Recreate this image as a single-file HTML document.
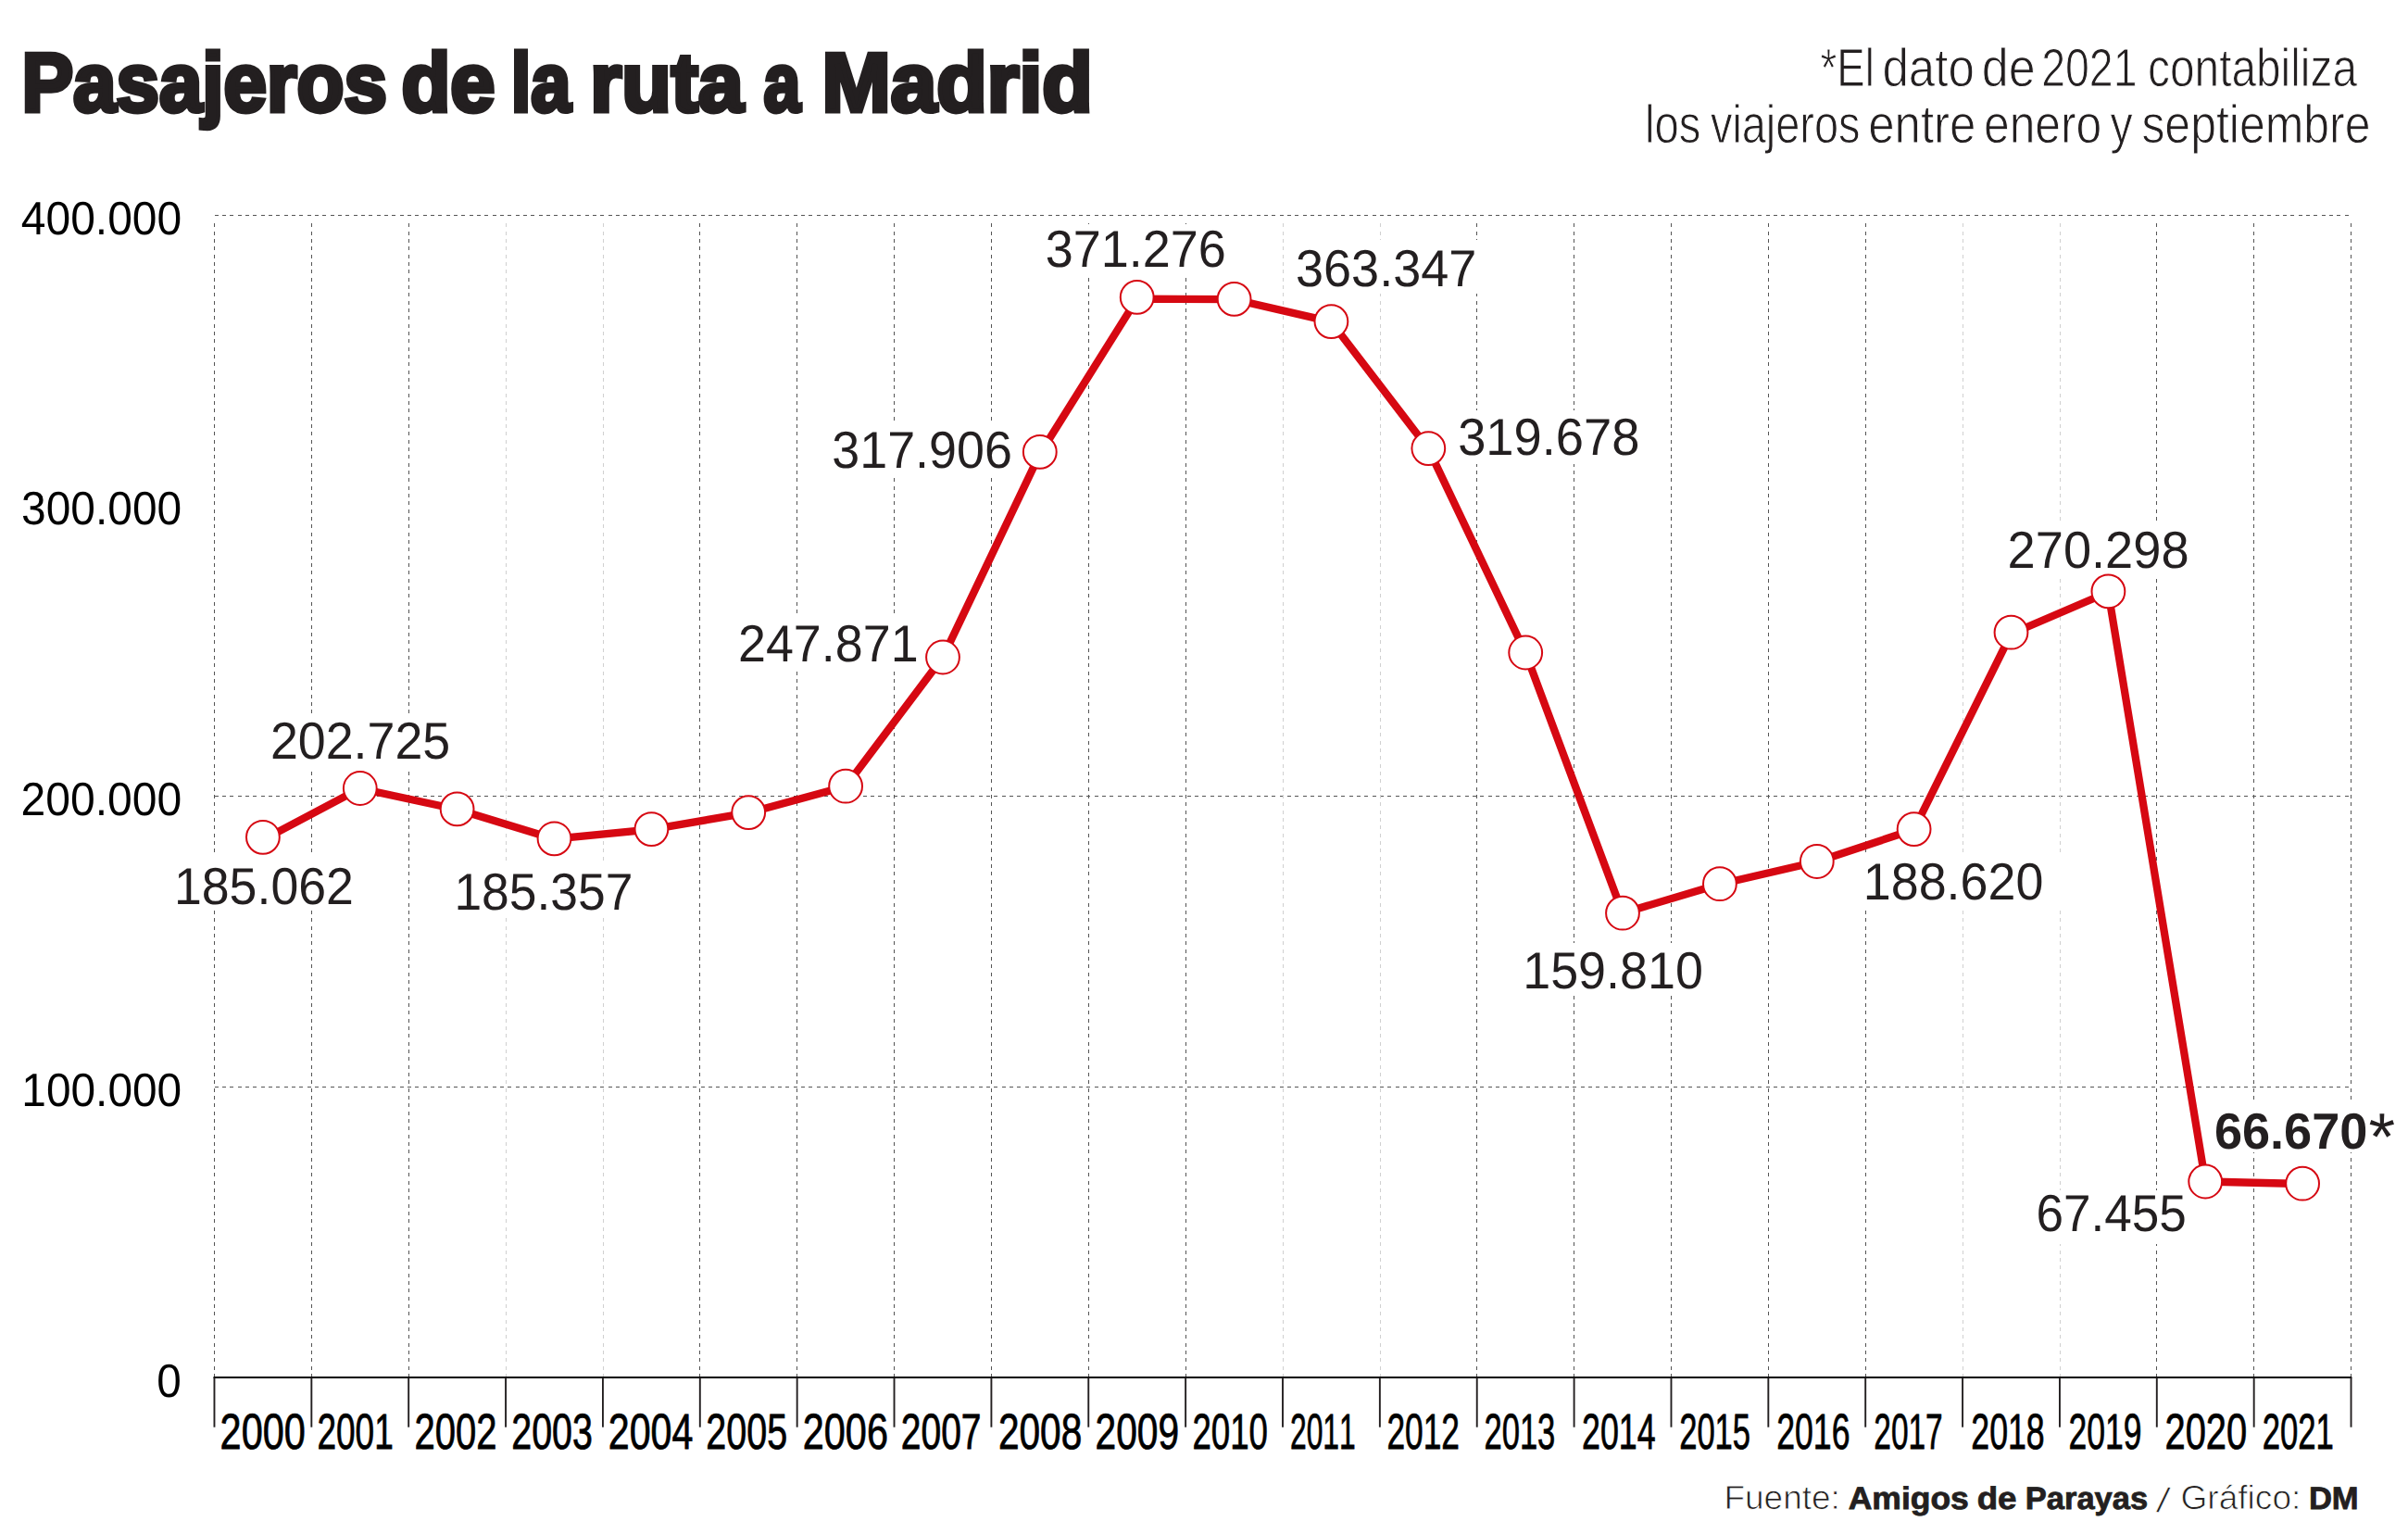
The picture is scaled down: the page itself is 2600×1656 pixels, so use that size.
<!DOCTYPE html>
<html lang="es"><head><meta charset="utf-8"><title>Pasajeros de la ruta a Madrid</title>
<style>html,body{margin:0;padding:0;background:#fff}svg{display:block}text{text-rendering:geometricPrecision;font-family:"Liberation Sans",sans-serif;font-kerning:none;fill:#231f20}.b{font-weight:700}.k{fill:#000}.h{stroke:#231f20;stroke-width:5;stroke-linejoin:miter;vector-effect:non-scaling-stroke}.y{stroke:#000;stroke-width:.8;vector-effect:non-scaling-stroke}.n{stroke:#fff;stroke-width:1;vector-effect:non-scaling-stroke}.m{stroke:#fff;stroke-width:.8;vector-effect:non-scaling-stroke}.f{stroke:#231f20;stroke-width:.8;vector-effect:non-scaling-stroke}</style></head><body>
<svg width="2600" height="1656" viewBox="0 0 2600 1656">
<rect width="2600" height="1656" fill="#fff"/>
<defs><path id="v" d="M.5 241v4m0 5v4m0 4v4m0 4v4m0 5v4m0 4v4m0 4v4m0 5v4m0 4v4m0 4v4m0 5v4m0 4v4m0 4v4m0 5v4m0 4v4m0 4v4m0 5v4m0 4v4m0 4v4m0 5v4m0 4v4m0 4v4m0 5v4m0 4v4m0 4v4m0 5v4m0 4v4m0 4v4m0 5v4m0 4v4m0 4v4m0 5v4m0 4v4m0 4v4m0 5v4m0 4v4m0 4v4m0 5v4m0 4v4m0 4v4m0 5v4m0 4v4m0 4v4m0 5v4m0 4v4m0 4v4m0 5v4m0 4v4m0 4v4m0 5v4m0 4v4m0 4v4m0 5v4m0 4v4m0 4v4m0 5v4m0 4v4m0 4v4m0 5v4m0 4v4m0 4v4m0 5v4m0 4v4m0 4v4m0 5v4m0 4v4m0 4v4m0 5v4m0 4v4m0 4v4m0 5v4m0 4v4m0 4v4m0 5v4m0 4v4m0 4v4m0 5v4m0 4v4m0 4v4m0 5v4m0 4v4m0 4v4m0 5v4m0 4v4m0 4v4m0 5v4m0 4v4m0 4v4m0 5v4m0 4v4m0 4v4m0 5v4m0 4v4m0 4v4m0 5v4m0 4v4m0 4v4m0 5v4m0 4v4m0 4v4m0 5v4m0 4v4m0 4v4m0 5v4m0 4v4m0 4v4m0 5v4m0 4v4m0 4v4m0 5v4m0 4v4m0 4v4m0 5v4m0 4v4m0 4v4m0 5v4m0 4v4m0 4v4m0 5v4m0 4v4m0 4v4m0 5v4m0 4v4m0 4v4m0 5v4m0 4v4m0 4v4m0 5v4m0 4v4m0 4v4m0 5v4m0 4v4m0 4v4m0 5v4m0 4v4m0 4v4m0 5v4m0 4v4m0 4v4m0 5v4m0 4v4m0 4v4m0 5v4m0 4v4m0 4v4m0 5v4m0 4v4m0 4v4m0 5v4m0 4v4"/><path id="h" d="M232 .5h4m4 0h4m4 0h4m5 0h4m4 0h4m4 0h4m5 0h4m4 0h4m4 0h4m5 0h4m4 0h4m4 0h4m5 0h4m4 0h4m4 0h4m5 0h4m4 0h4m4 0h4m5 0h4m4 0h4m4 0h4m5 0h4m4 0h4m4 0h4m5 0h4m4 0h4m4 0h4m5 0h4m4 0h4m4 0h4m5 0h4m4 0h4m4 0h4m5 0h4m4 0h4m4 0h4m5 0h4m4 0h4m4 0h4m5 0h4m4 0h4m4 0h4m5 0h4m4 0h4m4 0h4m5 0h4m4 0h4m4 0h4m5 0h4m4 0h4m4 0h4m5 0h4m4 0h4m4 0h4m5 0h4m4 0h4m4 0h4m5 0h4m4 0h4m4 0h4m5 0h4m4 0h4m4 0h4m5 0h4m4 0h4m4 0h4m5 0h4m4 0h4m4 0h4m5 0h4m4 0h4m4 0h4m5 0h4m4 0h4m4 0h4m5 0h4m4 0h4m4 0h4m5 0h4m4 0h4m4 0h4m5 0h4m4 0h4m4 0h4m5 0h4m4 0h4m4 0h4m5 0h4m4 0h4m4 0h4m5 0h4m4 0h4m4 0h4m5 0h4m4 0h4m4 0h4m5 0h4m4 0h4m4 0h4m5 0h4m4 0h4m4 0h4m5 0h4m4 0h4m4 0h4m5 0h4m4 0h4m4 0h4m5 0h4m4 0h4m4 0h4m5 0h4m4 0h4m4 0h4m5 0h4m4 0h4m4 0h4m5 0h4m4 0h4m4 0h4m5 0h4m4 0h4m4 0h4m5 0h4m4 0h4m4 0h4m5 0h4m4 0h4m4 0h4m5 0h4m4 0h4m4 0h4m5 0h4m4 0h4m4 0h4m5 0h4m4 0h4m4 0h4m5 0h4m4 0h4m4 0h4m5 0h4m4 0h4m4 0h4m5 0h4m4 0h4m4 0h4m5 0h4m4 0h4m4 0h4m5 0h4m4 0h4m4 0h4m5 0h4m4 0h4m4 0h4m5 0h4m4 0h4m4 0h4m5 0h4m4 0h4m4 0h4m5 0h4m4 0h4m4 0h4m5 0h4m4 0h4m4 0h4m5 0h4m4 0h4m4 0h4m5 0h4m4 0h4m4 0h4m5 0h4m4 0h4m4 0h4m5 0h4m4 0h4m4 0h4m5 0h4m4 0h4m4 0h4m5 0h4m4 0h4m4 0h4m5 0h4m4 0h4m4 0h4m5 0h4m4 0h4m4 0h4m5 0h4m4 0h4m4 0h4m5 0h4m4 0h4m4 0h4m5 0h4m4 0h4m4 0h4m5 0h4m4 0h4m4 0h4m5 0h4m4 0h4m4 0h4m5 0h4m4 0h4m4 0h4m5 0h4m4 0h4m4 0h4m5 0h4m4 0h4m4 0h4m5 0h4m4 0h4m4 0h4m5 0h4m4 0h4m4 0h4m5 0h4m4 0h4m4 0h4m5 0h4m4 0h4m4 0h4m5 0h4m4 0h4m4 0h4m5 0h4m4 0h4m4 0h4m5 0h4m4 0h4m4 0h4m5 0h4m4 0h4m4 0h4m5 0h4m4 0h4m4 0h4m5 0h4m4 0h4m4 0h4m5 0h4m4 0h4m4 0h4m5 0h4m4 0h4m4 0h4m5 0h4m4 0h4m4 0h4m5 0h4m4 0h4m4 0h4m5 0h4m4 0h4m4 0h4m5 0h4m4 0h4m4 0h4m5 0h4m4 0h4m4 0h4m5 0h4m4 0h4m4 0h4m5 0h4m4 0h4m4 0h4m5 0h4m4 0h4m4 0h4m5 0h4"/></defs>
<g stroke="#555" stroke-width="1" fill="none">
<use href="#h" y="232"/>
<use href="#h" y="859"/>
<use href="#h" y="1173"/>
<use href="#v" x="231"/>
<use href="#v" x="336"/>
<use href="#v" x="441"/>
<use href="#v" x="546" stroke="#d0d0d0"/>
<use href="#v" x="651" stroke="#d0d0d0"/>
<use href="#v" x="755"/>
<use href="#v" x="860"/>
<use href="#v" x="965"/>
<use href="#v" x="1070"/>
<use href="#v" x="1175"/>
<use href="#v" x="1280"/>
<use href="#v" x="1385" stroke="#d0d0d0"/>
<use href="#v" x="1490" stroke="#d0d0d0"/>
<use href="#v" x="1594"/>
<use href="#v" x="1699"/>
<use href="#v" x="1804"/>
<use href="#v" x="1909"/>
<use href="#v" x="2014"/>
<use href="#v" x="2119" stroke="#d0d0d0"/>
<use href="#v" x="2224" stroke="#d0d0d0"/>
<use href="#v" x="2328"/>
<use href="#v" x="2433"/>
<use href="#v" x="2538"/>
</g>
<g fill="#fff">
<rect x="188.0" y="921.0" width="212.0" height="60.0"/>
<rect x="291.0" y="770.0" width="209.0" height="60.0"/>
<rect x="491.0" y="929.0" width="209.0" height="62.0"/>
<rect x="785.0" y="664.0" width="207.0" height="59.0"/>
<rect x="890.0" y="455.0" width="203.0" height="59.0"/>
<rect x="1126.0" y="242.0" width="214.0" height="56.0"/>
<rect x="1397.0" y="259.0" width="215.0" height="58.0"/>
<rect x="1565.0" y="443.0" width="225.0" height="58.0"/>
<rect x="1644.0" y="1018.0" width="212.0" height="57.0"/>
<rect x="2011.0" y="920.0" width="217.0" height="62.0"/>
<rect x="2166.0" y="564.0" width="214.0" height="60.0"/>
<rect x="2196.0" y="1285.0" width="166.0" height="58.0"/>
<rect x="2389.0" y="1187.0" width="201.0" height="57.0"/>
</g>
<polyline fill="none" stroke="#d60812" stroke-width="8.3" stroke-linejoin="round" points="283.9,906.6 388.8,851.2 493.6,873.7 598.5,905.7 703.4,895.4 808.2,877.4 913.1,849.0 1018.0,709.6 1122.8,490.0 1227.7,322.6 1332.6,323.2 1437.4,347.4 1542.3,484.4 1647.2,704.8 1752.0,985.8 1856.9,954.5 1961.8,930.3 2066.6,895.5 2171.5,684.2 2276.4,639.3 2381.2,1275.5 2486.1,1278.0"/>
<g fill="#fff" stroke="#d60812" stroke-width="2">
<circle cx="283.9" cy="903.8" r="17.9"/>
<circle cx="388.8" cy="851.0" r="17.9"/>
<circle cx="493.6" cy="873.4" r="17.9"/>
<circle cx="598.5" cy="905.3" r="17.9"/>
<circle cx="703.4" cy="895.1" r="17.9"/>
<circle cx="808.2" cy="877.1" r="17.9"/>
<circle cx="913.1" cy="848.7" r="17.9"/>
<circle cx="1018.0" cy="709.5" r="17.9"/>
<circle cx="1122.8" cy="487.9" r="17.9"/>
<circle cx="1227.7" cy="320.9" r="17.9"/>
<circle cx="1332.6" cy="322.9" r="17.9"/>
<circle cx="1437.4" cy="347.1" r="17.9"/>
<circle cx="1542.3" cy="484.1" r="17.9"/>
<circle cx="1647.2" cy="704.5" r="17.9"/>
<circle cx="1752.0" cy="985.7" r="17.9"/>
<circle cx="1856.9" cy="954.2" r="17.9"/>
<circle cx="1961.8" cy="930.0" r="17.9"/>
<circle cx="2066.6" cy="895.1" r="17.9"/>
<circle cx="2171.5" cy="682.7" r="17.9"/>
<circle cx="2276.4" cy="638.4" r="17.9"/>
<circle cx="2381.2" cy="1275.5" r="17.9"/>
<circle cx="2486.1" cy="1277.7" r="17.9"/>
</g>
<path d="M230.5 1487.1H2539.3" stroke="#000" stroke-width="2" fill="none"/>
<g stroke="#231f20" stroke-width="1.9" fill="none">
<path d="M231.46 1487.1V1540.7"/>
<path d="M336.33 1487.1V1540.7"/>
<path d="M441.19 1487.1V1540.7"/>
<path d="M546.06 1487.1V1540.7"/>
<path d="M650.93 1487.1V1540.7"/>
<path d="M755.80 1487.1V1540.7"/>
<path d="M860.66 1487.1V1540.7"/>
<path d="M965.53 1487.1V1540.7"/>
<path d="M1070.40 1487.1V1540.7"/>
<path d="M1175.26 1487.1V1540.7"/>
<path d="M1280.13 1487.1V1540.7"/>
<path d="M1385.00 1487.1V1540.7"/>
<path d="M1489.86 1487.1V1540.7"/>
<path d="M1594.73 1487.1V1540.7"/>
<path d="M1699.60 1487.1V1540.7"/>
<path d="M1804.47 1487.1V1540.7"/>
<path d="M1909.33 1487.1V1540.7"/>
<path d="M2014.20 1487.1V1540.7"/>
<path d="M2119.07 1487.1V1540.7"/>
<path d="M2223.93 1487.1V1540.7"/>
<path d="M2328.80 1487.1V1540.7"/>
<path d="M2433.67 1487.1V1540.7"/>
<path d="M2538.53 1487.1V1540.7"/>
</g>
<text class="b h"><tspan x="23.42" y="120.20" textLength="394.51" lengthAdjust="spacingAndGlyphs" font-size="89.72">Pasajeros</tspan> <tspan x="433.45" y="120.20" textLength="101.01" lengthAdjust="spacingAndGlyphs" font-size="89.72">de</tspan> <tspan x="551.68" y="120.20" textLength="64.73" lengthAdjust="spacingAndGlyphs" font-size="89.72">la</tspan> <tspan x="637.23" y="120.20" textLength="165.42" lengthAdjust="spacingAndGlyphs" font-size="89.72">ruta</tspan> <tspan x="824.40" y="120.20" textLength="39.84" lengthAdjust="spacingAndGlyphs" font-size="89.72">a</tspan> <tspan x="887.54" y="120.20" textLength="292.03" lengthAdjust="spacingAndGlyphs" font-size="89.72">Madrid</tspan></text>
<text class="n"><tspan x="1965.46" y="92.50" textLength="58.39" lengthAdjust="spacingAndGlyphs" font-size="58.00">*El</tspan> <tspan x="2032.45" y="92.50" textLength="99.49" lengthAdjust="spacingAndGlyphs" font-size="58.00">dato</tspan> <tspan x="2139.71" y="92.50" textLength="57.90" lengthAdjust="spacingAndGlyphs" font-size="58.00">de</tspan> <tspan x="2204.16" y="92.50" textLength="103.30" lengthAdjust="spacingAndGlyphs" font-size="58.00">2021</tspan> <tspan x="2319.07" y="92.50" textLength="225.93" lengthAdjust="spacingAndGlyphs" font-size="58.00">contabiliza</tspan></text>
<text class="n"><tspan x="1775.91" y="153.90" textLength="60.50" lengthAdjust="spacingAndGlyphs" font-size="58.00">los</tspan> <tspan x="1846.94" y="153.90" textLength="161.55" lengthAdjust="spacingAndGlyphs" font-size="58.00">viajeros</tspan> <tspan x="2017.13" y="153.90" textLength="116.34" lengthAdjust="spacingAndGlyphs" font-size="58.00">entre</tspan> <tspan x="2141.99" y="153.90" textLength="127.30" lengthAdjust="spacingAndGlyphs" font-size="58.00">enero</tspan> <tspan x="2278.48" y="153.90" textLength="24.21" lengthAdjust="spacingAndGlyphs" font-size="58.00">y</tspan> <tspan x="2312.41" y="153.90" textLength="247.01" lengthAdjust="spacingAndGlyphs" font-size="58.00">septiembre</tspan></text>
<text class="k" transform="translate(22.80 253.40) scale(0.9474 1)" font-size="50.63">400.000</text>
<text class="k" transform="translate(23.08 566.30) scale(0.9458 1)" font-size="50.63">300.000</text>
<text class="k" transform="translate(22.48 880.30) scale(0.9491 1)" font-size="50.63">200.000</text>
<text class="k" transform="translate(23.36 1194.30) scale(0.9443 1)" font-size="50.63">100.000</text>
<text class="k" transform="translate(169.34 1508.40) scale(0.9421 1)" font-size="50.63">0</text>
<text class="k y" transform="translate(237.62 1563.50) scale(0.7668 1)" font-size="54.05">2000</text>
<text class="k y" transform="translate(342.44 1563.50) scale(0.6842 1)" font-size="54.05">2001</text>
<text class="k y" transform="translate(447.59 1563.50) scale(0.7404 1)" font-size="54.05">2002</text>
<text class="k y" transform="translate(552.32 1563.50) scale(0.7286 1)" font-size="54.05">2003</text>
<text class="k y" transform="translate(656.83 1563.50) scale(0.7616 1)" font-size="54.05">2004</text>
<text class="k y" transform="translate(762.31 1563.50) scale(0.7306 1)" font-size="54.05">2005</text>
<text class="k y" transform="translate(866.82 1563.50) scale(0.7660 1)" font-size="54.05">2006</text>
<text class="k y" transform="translate(972.74 1563.50) scale(0.7221 1)" font-size="54.05">2007</text>
<text class="k y" transform="translate(1077.96 1563.50) scale(0.7510 1)" font-size="54.05">2008</text>
<text class="k y" transform="translate(1182.55 1563.50) scale(0.7533 1)" font-size="54.05">2009</text>
<text class="k y" transform="translate(1287.46 1563.50) scale(0.6776 1)" font-size="54.05">2010</text>
<text class="k y" transform="translate(1393.00 1563.50) scale(0.5884 1)" font-size="54.05">2011</text>
<text class="k y" transform="translate(1497.42 1563.50) scale(0.6533 1)" font-size="54.05">2012</text>
<text class="k y" transform="translate(1602.46 1563.50) scale(0.6392 1)" font-size="54.05">2013</text>
<text class="k y" transform="translate(1708.00 1563.50) scale(0.6624 1)" font-size="54.05">2014</text>
<text class="k y" transform="translate(1813.16 1563.50) scale(0.6395 1)" font-size="54.05">2015</text>
<text class="k y" transform="translate(1918.21 1563.50) scale(0.6592 1)" font-size="54.05">2016</text>
<text class="k y" transform="translate(2023.32 1563.50) scale(0.6184 1)" font-size="54.05">2017</text>
<text class="k y" transform="translate(2128.31 1563.50) scale(0.6599 1)" font-size="54.05">2018</text>
<text class="k y" transform="translate(2233.41 1563.50) scale(0.6576 1)" font-size="54.05">2019</text>
<text class="k y" transform="translate(2337.50 1563.50) scale(0.7374 1)" font-size="54.05">2020</text>
<text class="k y" transform="translate(2442.76 1563.50) scale(0.6415 1)" font-size="54.05">2021</text>
<text transform="translate(187.91 975.80) scale(0.9564 1)" font-size="56.14">185.062</text>
<text transform="translate(291.90 818.80) scale(0.9578 1)" font-size="56.14">202.725</text>
<text transform="translate(490.43 981.50) scale(0.9513 1)" font-size="56.14">185.357</text>
<text transform="translate(796.99 713.60) scale(0.9591 1)" font-size="56.14">247.871</text>
<text transform="translate(898.35 505.00) scale(0.9585 1)" font-size="56.14">317.906</text>
<text transform="translate(1128.74 288.10) scale(0.9615 1)" font-size="56.14">371.276</text>
<text transform="translate(1398.94 309.40) scale(0.9633 1)" font-size="56.14">363.347</text>
<text transform="translate(1574.13 491.30) scale(0.9674 1)" font-size="56.14">319.678</text>
<text transform="translate(1644.19 1067.10) scale(0.9600 1)" font-size="56.14">159.810</text>
<text transform="translate(2011.80 971.20) scale(0.9589 1)" font-size="56.14">188.620</text>
<text transform="translate(2167.57 613.10) scale(0.9662 1)" font-size="56.14">270.298</text>
<text transform="translate(2198.40 1329.00) scale(0.9459 1)" font-size="56.14">67.455</text>
<text class="b"><tspan x="2390.92" y="1239.8" textLength="165.50" lengthAdjust="spacingAndGlyphs" font-size="54.80">66.670</tspan><tspan x="2557.51" y="1251.68" textLength="28.64" lengthAdjust="spacingAndGlyphs" font-size="72.35" font-weight="400">*</tspan></text>
<text><tspan x="1861.47" y="1629.30" textLength="125.41" lengthAdjust="spacingAndGlyphs" font-size="36.34" class="m">Fuente:</tspan> <tspan x="1995.72" y="1628.50" textLength="130.14" lengthAdjust="spacingAndGlyphs" font-size="34.01" class="b f">Amigos</tspan> <tspan x="2134.69" y="1628.50" textLength="42.86" lengthAdjust="spacingAndGlyphs" font-size="34.01" class="b f">de</tspan> <tspan x="2186.79" y="1628.50" textLength="132.32" lengthAdjust="spacingAndGlyphs" font-size="34.01" class="b f">Parayas</tspan> <tspan x="2327.80" y="1632.00" rotate="10.46" font-size="39.86" class="m">/</tspan> <tspan x="2354.43" y="1629.30" textLength="129.96" lengthAdjust="spacingAndGlyphs" font-size="36.34" class="m">Gráfico:</tspan> <tspan x="2492.88" y="1628.50" textLength="53.83" lengthAdjust="spacingAndGlyphs" font-size="34.01" class="b f">DM</tspan></text>
</svg></body></html>
